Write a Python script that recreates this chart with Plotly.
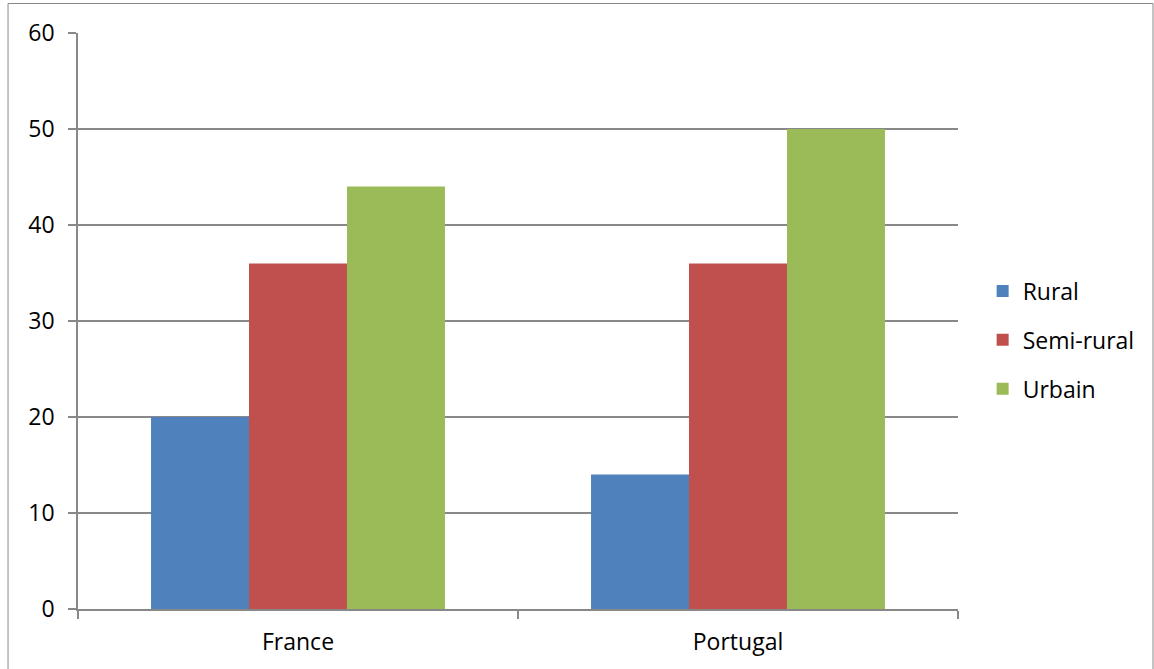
import plotly.graph_objects as go

# Share of respondents by area type, per country
countries = ["France", "Portugal"]
series_names = ["Rural", "Semi-rural", "Urbain"]
rural = [20, 14]
semi_rural = [36, 36]
urbain = [44, 50]
colors = ["#4F81BD", "#C0504D", "#9BBB59"]
y_ticks = [0, 10, 20, 30, 40, 50, 60]

FONT = dict(family="Open Sans, Calibri, sans-serif", size=23, color="#000000")
AXIS_GRAY = "#888888"

fig = go.Figure()
for name, vals, col in zip(series_names, [rural, semi_rural, urbain], colors):
    fig.add_trace(go.Bar(
        name=name, x=countries, y=vals, marker=dict(color=col, line=dict(width=0)),
        legendgroup=name,
    ))

fig.update_layout(
    width=1154, height=669,
    margin=dict(l=78, r=196, t=33, b=60),
    paper_bgcolor="white", plot_bgcolor="white",
    font=FONT,
    barmode="group", bargap=0.332, bargroupgap=0,
    showlegend=True,
    legend=dict(
        x=1.028, xanchor="left", y=0.467, yanchor="middle",
        tracegroupgap=16, bgcolor="rgba(0,0,0,0)", font=FONT,
    ),
    xaxis=dict(
        type="category", showline=True, linecolor=AXIS_GRAY, linewidth=1.5,
        ticks="outside", tickson="boundaries", ticklen=8, tickcolor=AXIS_GRAY,
        tickwidth=1.5, showgrid=False, ticklabelstandoff=12,
    ),
    yaxis=dict(
        range=[0, 60], tickvals=y_ticks, showline=True, linecolor=AXIS_GRAY,
        linewidth=1.5, ticks="outside", ticklen=8, tickcolor=AXIS_GRAY, tickwidth=1.5,
        showgrid=True, gridcolor=AXIS_GRAY, gridwidth=1.5, zeroline=False,
        ticklabelstandoff=9,
    ),
    shapes=[dict(
        type="rect", xref="paper", yref="paper",
        x0=-0.0795, x1=1.2216, y0=-0.13, y1=1.0512,
        line=dict(color="#898989", width=1), fillcolor="rgba(0,0,0,0)", layer="below",
    )],
)

fig.write_html("out.html")
